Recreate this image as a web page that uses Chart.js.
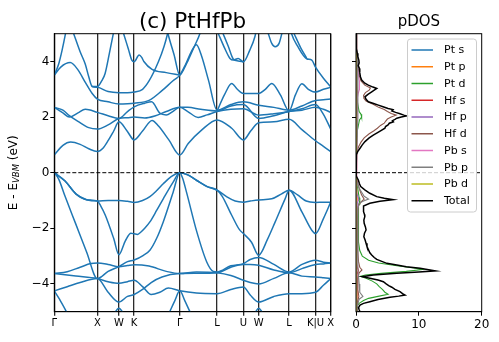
<!DOCTYPE html>
<html>
<head>
<meta charset="utf-8">
<script src="https://cdn.jsdelivr.net/npm/chart.js@4.4.1/dist/chart.umd.min.js"></script>
<style>
  html, body { margin: 0; padding: 0; background: #fff; }
  #wrap { position: relative; width: 499px; height: 342px; }
  canvas { position: absolute; top: 0; }
  #bands { left: 0; }
  #dos { left: 340px; }
</style>
</head>
<body>
<div id="wrap">
  <canvas id="bands" width="340" height="342"></canvas>
  <canvas id="dos" width="159" height="342"></canvas>
</div>
<script>
// k-path (high symmetry points) and labels
const kTicks = [0, 1, 1.5, 1.854, 2.914, 3.78, 4.392, 4.746, 5.453, 6.066, 6.419];
const kLabels = ["Γ", "X", "W", "K", "Γ", "L", "U", "W", "L", "K|U", "X"];
const energyTicks = [-4, -2, 0, 2, 4];
const dosTicks = [0, 10, 20];

// bands, [k, E]
const valenceBands = [
  [[0,0],[0.25,-0.3],[0.5,-0.76],[0.75,-0.97],[1,-1.02],[1.25,-1.0],[1.5,-1.0],[1.7,-1.03],[1.854,-1.07],[2.05,-1.0],[2.22,-0.86],[2.38,-0.64],[2.53,-0.4],[2.7,-0.16],[2.914,0],[3.1,-0.08],[3.31,-0.28],[3.55,-0.5],[3.78,-0.63],[4.0,-0.86],[4.2,-1.02],[4.392,-1.06],[4.55,-1.02],[4.746,-0.98],[5.05,-0.94],[5.28,-0.76],[5.453,-0.63],[5.65,-0.8],[5.85,-1.02],[6.066,-1.07],[6.25,-1.06],[6.419,-1.06]],
  [[0,0],[0.25,-0.3],[0.5,-0.76],[0.75,-0.97],[1,-1.02],[1.08,-1.2],[1.185,-1.53],[1.38,-2.37],[1.5,-2.95],[1.65,-2.45],[1.78,-2.18],[1.854,-2.2],[1.93,-2.22],[2.0,-2.15],[2.1,-2.0],[2.22,-1.77],[2.38,-1.35],[2.53,-0.94],[2.76,-0.34],[2.914,0],[3.1,-0.08],[3.31,-0.28],[3.55,-0.5],[3.78,-0.63],[3.9,-0.85],[4.12,-1.53],[4.3,-2.05],[4.392,-2.19],[4.58,-2.5],[4.746,-2.97],[4.95,-2.4],[5.13,-1.77],[5.36,-0.94],[5.453,-0.63],[5.75,-1.41],[5.98,-2.07],[6.066,-2.19],[6.25,-1.65],[6.419,-1.06]],
  [[0,0],[0.1,-0.22],[0.25,-0.85],[0.5,-1.85],[0.75,-2.85],[1,-3.81],[1.25,-3.55],[1.5,-3.38],[1.7,-3.2],[1.854,-3.14],[2.07,-2.97],[2.22,-2.79],[2.38,-2.35],[2.53,-1.77],[2.76,-0.7],[2.914,0],[2.98,-0.2],[3.07,-0.7],[3.31,-2.13],[3.54,-3.21],[3.69,-3.55],[3.78,-3.57],[4.1,-3.35],[4.392,-3.27],[4.55,-3.12],[4.746,-3.05],[5.1,-3.3],[5.453,-3.57],[5.75,-3.3],[6.066,-3.15],[6.25,-3.22],[6.419,-3.25]],
  [[0,-3.63],[0.3,-3.56],[0.6,-3.4],[0.85,-3.27],[1,-3.25],[1.25,-3.3],[1.5,-3.38],[1.7,-3.34],[1.854,-3.31],[2.2,-3.36],[2.6,-3.55],[2.914,-3.63],[3.3,-3.57],[3.78,-3.6],[4.1,-3.7],[4.392,-3.87],[4.55,-3.95],[4.746,-4.0],[5.1,-3.8],[5.453,-3.6],[5.75,-3.72],[6.066,-3.75],[6.25,-3.78],[6.419,-3.81]],
  [[0,-3.63],[0.5,-3.72],[1,-3.81],[1.25,-3.92],[1.5,-3.98],[1.7,-3.92],[1.854,-3.87],[2.05,-4.1],[2.25,-4.38],[2.45,-4.3],[2.65,-4.15],[2.914,-4.25],[3.3,-4.33],[3.78,-4.35],[4.1,-4.2],[4.392,-4.11],[4.55,-4.4],[4.746,-4.65],[5.1,-4.45],[5.453,-4.35],[5.75,-4.35],[6.066,-4.3],[6.25,-4.05],[6.419,-3.81]],
  [[0,-4.25],[0.3,-4.1],[0.6,-3.95],[1,-3.81],[1.25,-4.3],[1.5,-4.65],[1.7,-4.45],[1.854,-4.38],[2.05,-4.2],[2.25,-3.95],[2.5,-3.75],[2.914,-3.63],[3.3,-3.62],[3.78,-3.6],[4.1,-3.4],[4.392,-3.3],[4.55,-3.3],[4.746,-3.33],[5.1,-3.5],[5.453,-3.6],[5.75,-3.45],[6.066,-3.3],[6.25,-3.28],[6.419,-3.25]],
  [[0,-4.25],[0.12,-4.55],[0.28,-5.0],[0.45,-5.6],[1.25,-5.5],[1.4,-5.05],[1.5,-4.88],[1.6,-5.05],[1.75,-5.5],[2.5,-5.6],[2.68,-5.0],[2.8,-4.6],[2.914,-4.25],[3.03,-4.6],[3.15,-5.0],[3.35,-5.6],[4.55,-5.4],[4.68,-5.0],[4.746,-4.88],[4.82,-5.0],[5.0,-5.5],[6.419,-5.6]]
];

const conductionBands = [
  [[0,0.64],[0.2,0.98],[0.38,1.1],[0.6,1.02],[0.8,0.86],[1,0.76],[1.13,0.88],[1.26,1.18],[1.38,1.5],[1.5,1.83],[1.69,1.5],[1.854,1.18],[2.05,1.5],[2.27,1.88],[2.42,1.68],[2.66,1.18],[2.914,0.64],[3.11,1.05],[3.42,1.53],[3.78,1.9],[4.12,1.6],[4.392,1.18],[4.57,1.52],[4.746,1.8],[5.1,1.83],[5.453,1.92],[5.75,1.55],[6.066,1.15],[6.25,0.95],[6.419,0.76]],
  [[0,2.35],[0.2,2.25],[0.35,2.05],[0.55,1.85],[0.8,1.62],[1,1.57],[1.25,1.72],[1.5,1.95],[1.7,1.98],[1.854,2.0],[2.1,1.97],[2.35,2.05],[2.6,2.2],[2.914,2.35],[3.1,2.2],[3.34,1.99],[3.55,2.08],[3.78,2.2],[4.1,2.28],[4.392,2.3],[4.746,2.07],[5.1,2.12],[5.453,2.2],[5.75,2.3],[6.066,2.45],[6.25,2.1],[6.419,1.57]],
  [[0,2.35],[0.2,2.15],[0.35,2.0],[0.55,2.15],[0.72,2.28],[1,2.17],[1.25,2.05],[1.5,1.95],[1.7,2.2],[1.854,2.37],[2.1,2.5],[2.26,2.55],[2.45,2.14],[2.6,2.08],[2.75,2.2],[2.914,2.35],[3.1,2.35],[3.4,2.28],[3.78,2.22],[4.1,2.4],[4.392,2.45],[4.746,1.95],[5.1,2.05],[5.453,2.2],[5.75,2.25],[6.066,2.35],[6.25,2.28],[6.419,2.17]],
  [[0,3.51],[0.15,3.8],[0.37,3.96],[0.55,3.7],[0.72,3.25],[0.88,2.85],[1,2.65],[1.25,2.55],[1.5,2.47],[1.7,2.48],[1.854,2.5],[2.2,2.6],[2.5,2.95],[2.75,3.3],[2.914,3.51],[3.05,3.9],[3.18,4.35],[3.3,4.6],[3.42,4.2],[3.58,3.33],[3.78,2.25],[4.1,2.45],[4.392,2.55],[4.746,2.43],[5.1,2.35],[5.453,2.25],[5.75,2.4],[6.066,2.6],[6.25,2.62],[6.419,2.65]],
  [[0.45,5.0],[0.6,4.35],[0.72,3.9],[0.8,3.45],[0.88,3.1],[1,3.07],[1.25,2.92],[1.5,2.88],[1.7,2.88],[1.854,2.9],[2.05,3.0],[2.2,3.3],[2.42,4.0],[2.55,4.55],[2.63,5.0],[2.7,5.5]],
  [[3.78,2.22],[3.95,2.8],[4.12,3.21],[4.25,3.0],[4.392,2.85],[4.55,2.85],[4.746,2.85],[4.9,3.0],[5.05,3.21],[5.25,2.8],[5.453,2.22],[5.6,2.8],[5.75,3.2],[5.9,3.0],[6.066,2.9],[6.25,3.0],[6.419,3.07]],
  [[0,3.51],[0.1,3.9],[0.18,4.4],[0.26,5.0],[0.33,5.6]],
  [[2.55,5.6],[2.64,5.0],[2.78,4.25],[2.914,3.51],[3.0,3.7],[3.11,4.05],[3.27,4.6],[3.38,5.0],[3.45,5.4]],
  [[1.61,5.0],[1.72,4.45],[1.8,4.05],[1.854,3.99],[1.97,4.23],[2.03,4.15],[2.08,4.0],[2.27,3.72],[2.6,3.6],[2.914,3.51]],
  [[0.88,3.1],[1,3.1],[1.1,3.3],[1.18,3.57],[1.28,4.3],[1.37,5.0],[1.42,5.4]],
  [[3.81,5.0],[3.95,4.5],[4.08,4.11],[4.16,4.05],[4.27,4.11],[4.392,3.99],[4.54,4.41],[4.66,4.9],[4.7,5.2]],
  [[3.92,5.0],[4.04,4.55],[4.16,4.08],[4.27,4.02],[4.392,3.99]],
  [[4.95,5.1],[5.05,4.65],[5.13,4.53],[5.22,4.65],[5.3,5.1]],
  [[5.48,5.2],[5.51,5.0],[5.65,4.55],[5.86,4.1],[5.98,4.05],[6.066,3.8],[6.25,3.4],[6.419,3.09]],
  [[5.57,5.0],[5.72,4.5],[5.86,4.12]]
];

// projected DOS, [E, states]
const ptS = [[5,0],[3,0.03],[0.6,0],[0,0],[-1,0.05],[-3.5,0.08],[-4.4,0.15],[-5,0.1]];
const ptP = [[5,0],[3,0.05],[0.6,0],[0,0],[-0.95,0.2],[-1.2,0.1],[-3.5,0.1],[-4.4,0.2],[-5,0.1]];
const ptD = [[5,0],[4.5,0.03],[3.5,0.1],[3.0,0.15],[2.5,0.25],[2.2,0.5],[2.1,0.8],[2.0,0.9],[1.9,0.55],[1.5,0.2],[1.0,0.1],[0.6,0],[0,0],[-0.3,0.15],[-0.6,0.3],[-0.9,0.5],[-1.0,0.6],[-1.2,0.4],[-1.6,0.35],[-2.0,0.4],[-2.5,0.45],[-2.8,0.6],[-3.0,1.0],[-3.15,2.0],[-3.25,3.6],[-3.35,6.5],[-3.43,9.2],[-3.48,10.6],[-3.55,8.0],[-3.62,4.0],[-3.68,1.5],[-3.73,0.7],[-3.8,1.6],[-3.9,2.6],[-4.0,3.3],[-4.1,3.7],[-4.2,4.2],[-4.3,4.6],[-4.37,5.1],[-4.45,3.5],[-4.52,2.0],[-4.6,1.2],[-4.7,0.5],[-4.8,0.15],[-4.9,0.1],[-5,0.3]];
const hfS = [[5,0],[3.2,0.1],[2.9,0.2],[2.6,0.15],[2,0.05],[0.6,0],[0,0],[-3.2,0.05],[-3.4,0.2],[-3.52,0.4],[-3.65,0.15],[-4,0.05],[-5,0.03]];
const hfP = [[5,0],[3.2,0.1],[2.5,0.1],[1.5,0.05],[0.6,0],[0,0],[-0.7,0.15],[-0.95,0.45],[-1.1,0.2],[-2,0.1],[-3.5,0.1],[-4.5,0.15],[-5,0.1]];
const hfD = [[5,0],[4.5,0.05],[4.1,0.2],[3.8,0.35],[3.5,0.5],[3.3,0.8],[3.15,1.4],[3.05,2.3],[2.97,2.1],[2.88,1.5],[2.78,1.2],[2.68,1.25],[2.58,1.6],[2.45,2.8],[2.35,3.6],[2.27,4.5],[2.2,5.0],[2.13,5.6],[2.07,6.4],[2.0,5.6],[1.93,5.0],[1.85,4.7],[1.78,4.5],[1.7,3.9],[1.6,3.4],[1.5,2.8],[1.4,2.1],[1.25,1.3],[1.1,0.8],[0.95,0.45],[0.8,0.2],[0.65,0.05],[0.6,0],[0,0],[-0.3,0.2],[-0.6,0.55],[-0.8,0.9],[-0.95,1.3],[-1.05,0.8],[-1.2,0.35],[-1.6,0.25],[-2.2,0.25],[-2.8,0.3],[-3.2,0.4],[-3.4,0.6],[-3.5,0.95],[-3.6,0.5],[-3.8,0.3],[-4.2,0.3],[-4.45,0.45],[-4.6,0.3],[-5,0.2]];
const pbS = [[5,0],[4.3,0.1],[4.0,0.2],[3.7,0.3],[3.45,0.45],[3.3,0.55],[3.15,0.6],[3.0,0.5],[2.85,0.35],[2.6,0.15],[2.2,0.08],[1,0.03],[0.6,0],[0,0],[-1,0.02],[-4,0.05],[-4.6,0.1],[-5,0.05]];
const pbP = [[5,0],[4.5,0.1],[4,0.25],[3,0.3],[2,0.3],[1,0.15],[0.6,0],[0,0],[-0.3,0.15],[-0.55,0.5],[-0.7,0.9],[-0.85,1.3],[-0.95,2.0],[-1.02,1.2],[-1.1,0.5],[-1.3,0.3],[-2,0.3],[-2.8,0.3],[-3.3,0.3],[-3.6,0.35],[-4.0,0.5],[-4.3,0.6],[-4.45,1.1],[-4.55,0.5],[-4.8,0.2],[-5,0.15]];
const pbD = [[5,0],[0,0],[-4.5,0.03],[-5,0.05]];
const totalDos = [[5,0],[4.8,0.02],[4.6,0.1],[4.45,0.05],[4.3,0.2],[4.17,0.3],[4.05,0.45],[3.95,0.5],[3.85,0.35],[3.75,0.55],[3.6,0.6],[3.45,0.7],[3.33,0.9],[3.22,1.4],[3.15,1.96],[3.08,2.7],[3.03,3.3],[2.97,2.9],[2.91,2.5],[2.82,1.9],[2.73,1.43],[2.64,1.6],[2.55,1.96],[2.49,2.8],[2.43,3.55],[2.37,4.3],[2.31,5.1],[2.27,5.9],[2.22,5.7],[2.17,6.3],[2.12,7.0],[2.07,7.6],[2.04,8.05],[2.0,7.2],[1.96,6.5],[1.92,6.2],[1.87,5.8],[1.83,5.95],[1.78,5.3],[1.72,5.1],[1.66,4.7],[1.6,4.6],[1.53,4.1],[1.45,3.5],[1.35,2.75],[1.25,2.1],[1.12,1.43],[1.0,1.0],[0.88,0.64],[0.76,0.27],[0.65,0.05],[0.6,0],[0,0],[-0.12,0.1],[-0.26,0.37],[-0.4,0.55],[-0.5,0.75],[-0.62,1.4],[-0.74,2.2],[-0.86,3.3],[-0.92,4.5],[-0.97,5.9],[-1.03,3.8],[-1.1,2.2],[-1.2,1.2],[-1.3,1.25],[-1.4,1.15],[-1.5,1.35],[-1.58,1.4],[-1.7,1.25],[-1.82,1.3],[-1.95,1.5],[-2.06,1.6],[-2.18,1.35],[-2.3,1.25],[-2.42,1.45],[-2.54,1.6],[-2.66,1.75],[-2.78,2.0],[-2.88,2.2],[-2.96,2.5],[-3.05,2.9],[-3.12,3.3],[-3.2,4.2],[-3.26,4.9],[-3.32,6.5],[-3.38,8.0],[-3.44,10.2],[-3.5,11.8],[-3.53,12.6],[-3.57,10.0],[-3.62,6.5],[-3.68,2.75],[-3.74,1.0],[-3.8,2.2],[-3.86,3.5],[-3.92,4.35],[-4.0,4.8],[-4.06,5.2],[-4.12,5.7],[-4.2,6.2],[-4.28,7.0],[-4.35,7.4],[-4.4,7.8],[-4.44,6.8],[-4.48,5.4],[-4.56,3.5],[-4.64,2.2],[-4.7,1.2],[-4.76,0.64],[-4.85,0.4],[-4.93,0.5],[-5.0,0.64]];

const dosLabels = ["Pt s", "Pt p", "Pt d", "Hf s", "Hf p", "Hf d", "Pb s", "Pb p", "Pb d", "Total"];
const dosSeries = [ptS, ptP, ptD, hfS, hfP, hfD, pbS, pbP, pbD, totalDos];
const dosColors = ["#1f77b4", "#ff7f0e", "#2ca02c", "#d62728", "#9467bd", "#8c564b", "#e377c2", "#7f7f7f", "#bcbd22", "#000000"];

const FONT = "DejaVu Sans";

function minusLabel(v) {
  return v < 0 ? "\u2212" + Math.abs(v) : String(v);
}

// black box around the plot area, like matplotlib spines
const frame = {
  id: "frame",
  afterDatasetsDraw(chart) {
    const a = chart.chartArea;
    const ctx = chart.ctx;
    ctx.save();
    ctx.strokeStyle = "#000";
    ctx.lineWidth = 1;
    ctx.strokeRect(a.left, a.top, a.right - a.left, a.bottom - a.top);
    ctx.restore();
  }
};

const bandText = {
  id: "bandText",
  afterDraw(chart) {
    const a = chart.chartArea;
    const ctx = chart.ctx;
    ctx.save();
    ctx.fillStyle = "#000";
    ctx.textAlign = "center";
    ctx.textBaseline = "alphabetic";
    ctx.font = "21.5px '" + FONT + "'";
    ctx.fillText("(c) PtHfPb", (a.left + a.right) / 2, 27.5);

    // y label with subscript, rotated
    const big = "12px '" + FONT + "'";
    const small = "italic 8.5px '" + FONT + "'";
    ctx.translate(14, (a.top + a.bottom) / 2);
    ctx.rotate(-Math.PI / 2);
    ctx.textAlign = "left";
    ctx.textBaseline = "middle";
    ctx.font = big;
    const w1 = ctx.measureText("E - E").width;
    const w3 = ctx.measureText(" (eV)").width;
    ctx.font = small;
    const w2 = ctx.measureText("VBM").width;
    let x = -(w1 + w2 + w3) / 2;
    ctx.font = big;
    ctx.fillText("E - E", x, 0);
    ctx.font = small;
    ctx.fillText("VBM", x + w1, 3);
    ctx.font = big;
    ctx.fillText(" (eV)", x + w1 + w2, 0);
    ctx.restore();
  }
};

const dosText = {
  id: "dosText",
  afterDraw(chart) {
    const a = chart.chartArea;
    const ctx = chart.ctx;
    ctx.save();
    ctx.fillStyle = "#000";
    ctx.textAlign = "center";
    ctx.textBaseline = "alphabetic";
    ctx.font = "15px '" + FONT + "'";
    ctx.fillText("pDOS", (a.left + a.right) / 2, 26);

    // legend box in the upper right corner
    const bx = 67.5, by = 39, bw = 69, bh = 173;
    ctx.fillStyle = "rgba(255,255,255,0.8)";
    ctx.strokeStyle = "#cccccc";
    ctx.lineWidth = 1;
    ctx.beginPath();
    ctx.roundRect(bx, by, bw, bh, 3);
    ctx.fill();
    ctx.stroke();
    ctx.font = "11px '" + FONT + "'";
    ctx.textAlign = "left";
    ctx.textBaseline = "middle";
    chart.data.datasets.forEach((ds, i) => {
      if (!ds.label) return;
      const y = by + 11 + i * 16.75;
      ctx.strokeStyle = ds.borderColor;
      ctx.lineWidth = 1.5;
      ctx.beginPath();
      ctx.moveTo(bx + 4, y);
      ctx.lineTo(bx + 25.5, y);
      ctx.stroke();
      ctx.fillStyle = "#000";
      ctx.fillText(ds.label, bx + 36.5, y + 0.5);
    });
    ctx.restore();
  }
};

function renderBands() {
  const datasets = valenceBands.concat(conductionBands).map(b => ({
    data: b.map(([k, e]) => ({ x: k, y: e })),
    borderColor: "#1f77b4",
    borderWidth: 1.5,
    pointRadius: 0,
    cubicInterpolationMode: "monotone",
    fill: false,
    order: 1
  }));
  // dashed line at the VBM
  datasets.push({
    data: [{ x: kTicks[0], y: 0 }, { x: kTicks[kTicks.length - 1], y: 0 }],
    borderColor: "#000",
    borderWidth: 1,
    borderDash: [4, 2],
    pointRadius: 0,
    fill: false,
    order: 0
  });

  new Chart(document.getElementById("bands"), {
    type: "line",
    data: { datasets },
    options: {
      responsive: false,
      animation: false,
      events: [],
      layout: { padding: { left: 0, top: 33.7, right: 9.3, bottom: 0 } },
      plugins: { legend: { display: false }, tooltip: { enabled: false } },
      scales: {
        x: {
          type: "linear",
          min: kTicks[0],
          max: kTicks[kTicks.length - 1],
          afterBuildTicks: s => { s.ticks = kTicks.map(v => ({ value: v })); },
          afterFit: s => { s.height = 30.3; },
          ticks: {
            autoSkip: false, maxRotation: 0, padding: 2, color: "#000",
            font: { family: FONT, size: 10 },
            callback: (v, i) => kLabels[i]
          },
          grid: { color: "#2b2b2b", lineWidth: 1.3, tickLength: 4 },
          border: { color: "#000", width: 1 }
        },
        y: {
          type: "linear",
          min: -5,
          max: 5,
          afterBuildTicks: s => { s.ticks = energyTicks.map(v => ({ value: v })); },
          afterFit: s => { s.width = 54.3; },
          ticks: { padding: 1, color: "#000", font: { family: FONT, size: 12 }, callback: v => minusLabel(v) },
          grid: { drawOnChartArea: false, tickLength: 4, color: "#000" },
          border: { color: "#000", width: 1 }
        }
      }
    },
    plugins: [frame, bandText]
  });
}

function renderDos() {
  const datasets = dosSeries.map((s, i) => ({
    label: dosLabels[i],
    data: s.map(([e, d]) => ({ x: d, y: e })),
    borderColor: dosColors[i],
    borderWidth: dosLabels[i] === "Total" ? 1.5 : 1.1,
    pointRadius: 0,
    fill: false,
    order: dosLabels[i] === "Total" ? 1 : 10 - i
  }));
  datasets.push({
    data: [{ x: dosTicks[0], y: 0 }, { x: dosTicks[dosTicks.length - 1], y: 0 }],
    borderColor: "#000",
    borderWidth: 1,
    borderDash: [4, 2],
    pointRadius: 0,
    fill: false,
    order: 0
  });

  new Chart(document.getElementById("dos"), {
    type: "line",
    data: { datasets },
    options: {
      responsive: false,
      animation: false,
      events: [],
      layout: { padding: { left: 0, top: 33.7, right: 17.3, bottom: 0 } },
      plugins: { legend: { display: false }, tooltip: { enabled: false } },
      scales: {
        x: {
          type: "linear",
          min: dosTicks[0],
          max: dosTicks[dosTicks.length - 1],
          afterBuildTicks: s => { s.ticks = dosTicks.map(v => ({ value: v })); },
          afterFit: s => { s.height = 30.3; },
          ticks: { padding: 2, color: "#000", maxRotation: 0, font: { family: FONT, size: 12 } },
          grid: { drawOnChartArea: false, tickLength: 4, color: "#000" },
          border: { color: "#000", width: 1 }
        },
        y: {
          type: "linear",
          min: -5,
          max: 5,
          afterBuildTicks: s => { s.ticks = energyTicks.map(v => ({ value: v })); },
          afterFit: s => { s.width = 16; },
          ticks: { padding: 0, callback: () => "" },
          grid: { drawOnChartArea: false, tickLength: 4, color: "#000" },
          border: { color: "#000", width: 1 }
        }
      }
    },
    plugins: [frame, dosText]
  });
}

renderBands();
renderDos();
</script>
</body>
</html>
